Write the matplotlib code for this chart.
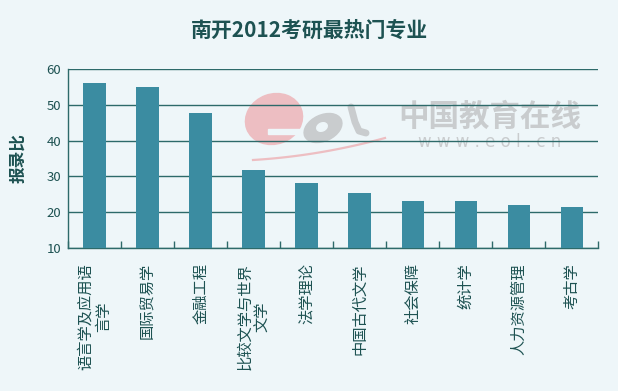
import matplotlib.pyplot as plt
import numpy as np
from matplotlib.patches import Ellipse, Rectangle

plt.rcParams['font.family'] = ['Noto Sans CJK SC', 'DejaVu Sans']

majors = ['语言学及应用语\n言学', '国际贸易学', '金融工程', '比较文学与世界\n文学', '法学理论',
          '中国古代文学', '社会保障', '统计学', '人力资源管理', '考古学']
ratio = [56.2, 55.1, 47.8, 31.9, 28.2, 25.4, 23.1, 23.1, 22.0, 21.3]
yticks = [10, 20, 30, 40, 50, 60]

bg = '#EEF6F9'
bar_c = '#3B8CA1'
line_c = '#2D6A6A'
txt_c = '#1D5252'
pink = '#EDBEC2'
grey = '#C9CCCE'

fig = plt.figure(figsize=(6.18, 3.91), dpi=100, facecolor=bg)

# watermark layer in pixel coords, behind the chart
wm = fig.add_axes([0, 0, 1, 1], zorder=0)
wm.set_xlim(0, 618)
wm.set_ylim(391, 0)
wm.axis('off')
wm.add_patch(Ellipse((274, 119), 58, 50, angle=-20, color=pink))
wm.add_patch(Rectangle((268, 129), 40, 5, color=bg))
wm.add_patch(Ellipse((323, 128), 40, 26, angle=-25, color=grey))
wm.add_patch(Ellipse((322, 127), 11, 8, angle=-25, color=bg))
wm.plot([351, 355, 359, 366], [107, 122, 131, 133], color=grey, lw=5,
        solid_capstyle='round')
t = np.linspace(0, 1, 30)
wm.plot(253 + 132 * t, 160 - 22 * t + 14 * t * (1 - t), color=pink, lw=1.6)
wm.text(490, 117, '中国教育在线', fontsize=22, fontweight='bold', color=grey,
        ha='center', va='center')
wm.text(490, 142, 'w w w . e o l . c n', fontsize=12, color=grey,
        ha='center', va='center', family='DejaVu Sans')

ax = fig.add_axes([0.110, 0.366, 0.858, 0.4575], zorder=1)
ax.patch.set_alpha(0)

x = np.arange(len(majors))
ax.bar(x, ratio, width=0.42, bottom=0, color=bar_c, zorder=3)

ax.set_xlim(-0.5, len(majors) - 0.5)
ax.set_ylim(10, 60)
ax.set_yticks(yticks)
ax.yaxis.grid(True, color=line_c, linewidth=1)
ax.set_axisbelow(True)

ax.set_xticks(x)
ax.set_xticklabels(majors, rotation=90, fontsize=11, color=txt_c,
                   va='top', ha='center', multialignment='center', linespacing=1.1)
ax.set_xticks(np.arange(len(majors) + 1) - 0.5, minor=True)
ax.tick_params(axis='x', which='major', length=0, pad=11)
ax.tick_params(axis='x', which='minor', direction='in', length=5, color=line_c, width=1)
ax.tick_params(axis='y', length=0, labelsize=9.5, labelcolor=txt_c, pad=5)

for s in ['top', 'right']:
    ax.spines[s].set_visible(False)
for s in ['left', 'bottom']:
    ax.spines[s].set_color(line_c)
    ax.spines[s].set_linewidth(1)

ax.set_ylabel('报录比', fontsize=12, fontweight='bold', color=txt_c, labelpad=14)
fig.text(0.5, 0.923, '南开2012考研最热门专业', fontsize=15, fontweight='bold',
         color=txt_c, ha='center', va='center')

fig.savefig('out.png', dpi=100, facecolor=bg)
